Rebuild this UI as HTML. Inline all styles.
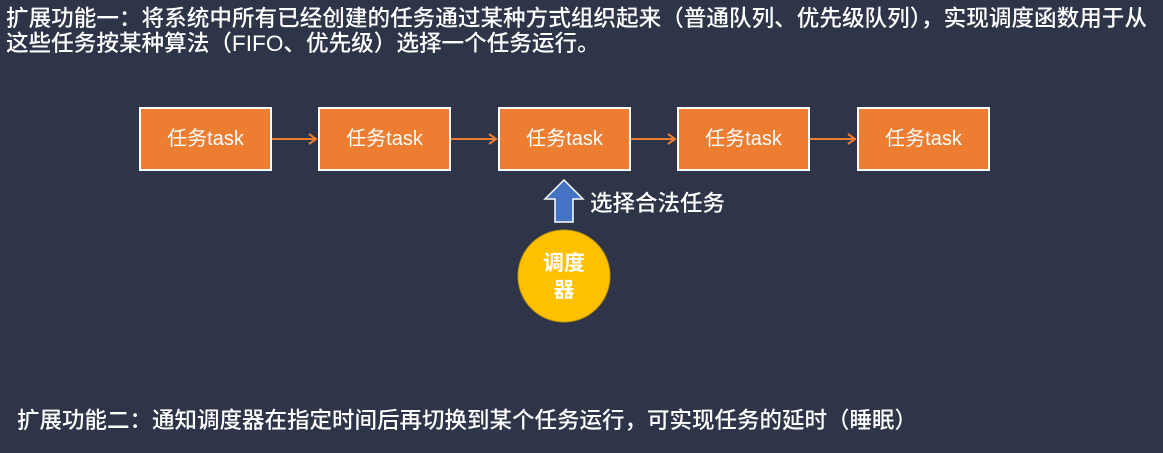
<!DOCTYPE html>
<html><head><meta charset="utf-8"><style>
body{margin:0;width:1163px;height:453px;background:#2e3548;overflow:hidden;position:relative;font-family:"Liberation Sans","Noto Sans CJK SC",sans-serif;color:#fff}
.t{position:absolute;left:6px;font-size:22.6px;line-height:25px;white-space:nowrap;font-weight:500}
.box{position:absolute;top:107px;width:129px;height:60px;background:#ed7d31;border:2px solid #fff;font-size:20px;line-height:60px;text-align:center}
</style></head><body>
<div class="t" style="top:6px">扩展功能一：将系统中所有已经创建的任务通过某种方式组织起来（普通队列、优先级队列），实现调度函数用于从<br>这些任务按某种算法（FIFO、优先级）选择一个任务运行。</div>
<div class="box" style="left:139px">任务task</div>
<div class="box" style="left:318px">任务task</div>
<div class="box" style="left:498px">任务task</div>
<div class="box" style="left:677px">任务task</div>
<div class="box" style="left:857px">任务task</div>
<svg width="1163" height="453" style="position:absolute;left:0;top:0">
<g stroke="#ed7d31" stroke-width="2" fill="none">
<path d="M272 139H316M309 134L316 139L309 144"/>
<path d="M451 139H496M489 134L496 139L489 144"/>
<path d="M631 139H675M668 134L675 139L668 144"/>
<path d="M810 139H855M848 134L855 139L848 144"/>
</g>
<polygon points="564,180 583,199 573,199 573,222 555,222 555,199 545,199" fill="#4472c4" stroke="#fff" stroke-width="1.5"/>
<circle cx="564" cy="276" r="46" fill="#ffc000" stroke="#c89a00" stroke-width="1"/>
</svg>
<div style="position:absolute;left:590px;top:186px;font-size:22.5px;font-weight:500">选择合法任务</div>
<div style="position:absolute;left:524px;top:250px;width:80px;text-align:center;font-size:21px;line-height:27px;font-weight:bold">调度<br>器</div>
<div class="t" style="left:17px;top:408px;font-size:22.5px">扩展功能二：通知调度器在指定时间后再切换到某个任务运行，可实现任务的延时（睡眠）</div>
</body></html>
